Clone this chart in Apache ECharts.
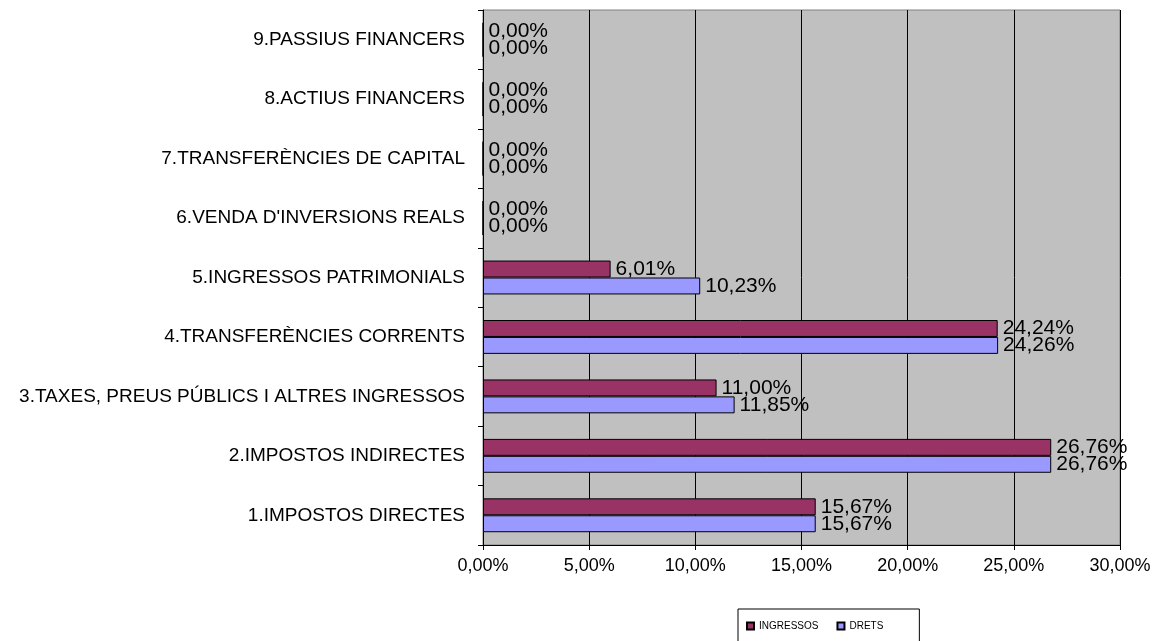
<!DOCTYPE html>
<html>
<head>
<meta charset="utf-8">
<script src="https://cdn.jsdelivr.net/npm/echarts@6/dist/echarts.min.js"></script>
<style>
  html, body { margin: 0; padding: 0; background: #fff; }
  #chart { width: 1168px; height: 641px; }
</style>
</head>
<body>
<div id="chart"></div>
<script>
// categories, bottom to top
const categories = [
  '1.IMPOSTOS DIRECTES',
  '2.IMPOSTOS INDIRECTES',
  '3.TAXES, PREUS PÚBLICS I ALTRES INGRESSOS',
  '4.TRANSFERÈNCIES CORRENTS',
  '5.INGRESSOS PATRIMONIALS',
  "6.VENDA D'INVERSIONS REALS",
  '7.TRANSFERÈNCIES DE CAPITAL',
  '8.ACTIUS FINANCERS',
  '9.PASSIUS FINANCERS'
]
const ingressos = [15.67, 26.76, 11.00, 24.24, 6.01, 0, 0, 0, 0]
const drets = [15.67, 26.76, 11.85, 24.26, 10.23, 0, 0, 0, 0]
const xTicks = { min: 0, max: 30, interval: 5 }

const pct = v => v.toFixed(2).replace('.', ',') + '%'

const chart = echarts.init(document.getElementById('chart'))

const barLabel = {
  show: true,
  position: 'right',
  distance: 5,
  color: '#000',
  fontSize: 21,
  fontFamily: 'Liberation Sans, Arial, sans-serif',
  formatter: p => pct(p.value)
}

const option = {
  backgroundColor: '#fff',
  animation: false,
  grid: {
    left: 483,
    top: 10,
    width: 637,
    height: 535,
    containLabel: false,
    outerBoundsMode: 'none',
    show: true,
    backgroundColor: '#C0C0C0',
    borderColor: '#808080',
    borderWidth: 1
  },
  legend: {
    data: ['INGRESSOS', 'DRETS'],
    left: 738,
    top: 609,
    orient: 'horizontal',
    padding: [12, 36, 20, 8],
    itemGap: 18,
    itemWidth: 7,
    itemHeight: 7,
    icon: 'rect',
    borderColor: '#000',
    borderWidth: 1,
    backgroundColor: '#fff',
    textStyle: {
      fontSize: 10,
      color: '#000',
      fontFamily: 'Liberation Sans, Arial, sans-serif'
    }
  },
  xAxis: {
    type: 'value',
    min: xTicks.min,
    max: xTicks.max,
    interval: xTicks.interval,
    axisLine: { show: true, lineStyle: { color: '#000', width: 1 } },
    axisTick: { show: true, length: 5, lineStyle: { color: '#000' } },
    splitLine: { show: true, lineStyle: { color: '#000', width: 1 } },
    axisLabel: {
      margin: 12,
      color: '#000',
      fontSize: 18,
      fontFamily: 'Liberation Sans, Arial, sans-serif',
      formatter: v => pct(v)
    }
  },
  yAxis: {
    type: 'category',
    data: categories,
    axisLine: { show: true, lineStyle: { color: '#000', width: 1 } },
    axisTick: { show: true, length: 5, lineStyle: { color: '#000' } },
    splitLine: { show: false },
    axisLabel: {
      margin: 18,
      color: '#000',
      fontSize: 19,
      fontFamily: 'Liberation Sans, Arial, sans-serif'
    }
  },
  series: [
    {
      name: 'INGRESSOS',
      type: 'bar',
      data: ingressos,
      barGap: '0%',
      barCategoryGap: '43%',
      itemStyle: { color: '#993366', borderColor: '#000', borderWidth: 1 },
      label: barLabel
    },
    {
      name: 'DRETS',
      type: 'bar',
      data: drets,
      barGap: '0%',
      barCategoryGap: '43%',
      itemStyle: { color: '#9999FF', borderColor: '#000', borderWidth: 1 },
      label: barLabel
    }
  ]
}

chart.setOption(option)
</script>
</body>
</html>
